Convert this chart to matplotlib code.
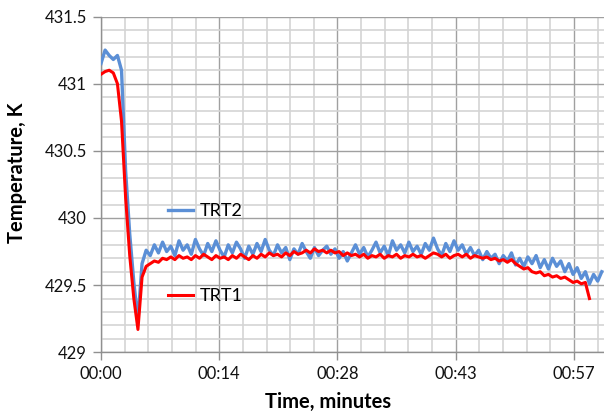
import numpy as np
import matplotlib
matplotlib.use("Agg")
import matplotlib.pyplot as plt
from matplotlib.ticker import FixedLocator, MultipleLocator

plt.rcParams['font.family'] = ['Lato', 'DejaVu Sans']

# sampling interval of the readings, minutes
step_min = 0.5

trt2 = [431.15, 431.25, 431.21, 431.18, 431.21, 431.10, 430.35, 429.88, 429.52, 429.24,
        429.66, 429.76, 429.72, 429.80, 429.74, 429.82, 429.75, 429.79, 429.72, 429.83,
        429.76, 429.80, 429.73, 429.84, 429.77, 429.72, 429.81, 429.75, 429.83, 429.76,
        429.71, 429.80, 429.74, 429.82, 429.77, 429.70, 429.79, 429.73, 429.81, 429.75,
        429.84, 429.76, 429.72, 429.80, 429.74, 429.78, 429.69, 429.77, 429.73, 429.81,
        429.75, 429.70, 429.78, 429.72, 429.76, 429.79, 429.73, 429.77, 429.70, 429.75,
        429.68, 429.74, 429.80, 429.73, 429.78, 429.71, 429.76, 429.82, 429.74, 429.79,
        429.72, 429.83, 429.76, 429.80, 429.74, 429.82, 429.75, 429.79, 429.73, 429.81,
        429.76, 429.85, 429.77, 429.72, 429.81, 429.75, 429.83, 429.76, 429.80, 429.73,
        429.78, 429.72, 429.76, 429.69, 429.75, 429.70, 429.73, 429.66, 429.72, 429.68,
        429.74, 429.65, 429.70, 429.64, 429.71, 429.66, 429.72, 429.63, 429.69, 429.62,
        429.70, 429.64, 429.68, 429.60, 429.66, 429.58, 429.63, 429.55, 429.60, 429.51,
        429.58, 429.53, 429.60]

trt1 = [431.07, 431.09, 431.10, 431.08, 431.00, 430.72, 430.15, 429.72, 429.40, 429.17,
        429.56, 429.64, 429.66, 429.68, 429.67, 429.70, 429.69, 429.71, 429.69, 429.72,
        429.70, 429.71, 429.69, 429.72, 429.70, 429.73, 429.71, 429.69, 429.72, 429.70,
        429.71, 429.69, 429.72, 429.70, 429.73, 429.71, 429.69, 429.72, 429.70, 429.73,
        429.71, 429.74, 429.72, 429.73, 429.71, 429.74, 429.72, 429.75, 429.73, 429.74,
        429.76, 429.74, 429.77, 429.75, 429.76, 429.74, 429.76, 429.74, 429.75, 429.72,
        429.74, 429.72, 429.73, 429.71, 429.73, 429.70, 429.72, 429.71, 429.73, 429.70,
        429.72, 429.71, 429.73, 429.70, 429.72, 429.71, 429.73, 429.71, 429.72, 429.70,
        429.72, 429.74, 429.73, 429.71, 429.73, 429.70, 429.72, 429.73, 429.71, 429.73,
        429.70, 429.72, 429.71, 429.70, 429.71, 429.69, 429.70, 429.68, 429.69, 429.67,
        429.69, 429.66, 429.64, 429.62, 429.63, 429.60, 429.59, 429.60, 429.57, 429.58,
        429.56, 429.57, 429.55, 429.56, 429.54, 429.52, 429.53, 429.51, 429.52, 429.40]

x_tick_min = [0, 14.4, 28.8, 43.2, 57.6]
x_tick_labels = ["00:00", "00:14", "00:28", "00:43", "00:57"]
y_ticks = [429, 429.5, 430, 430.5, 431, 431.5]
y_tick_labels = ["429", "429.5", "430", "430.5", "431", "431.5"]

t2 = np.arange(len(trt2)) * step_min
t1 = np.arange(len(trt1)) * step_min

fig = plt.figure(figsize=(6.04, 4.13), dpi=100)
ax = fig.add_axes([101/604, 60.7/413, 503/604, 335.8/413])

major_c = '#a0a0a0'
minor_c = '#d4d4d4'
ax.set_xlim(0, 61.27)
ax.set_ylim(429, 431.5)
ax.xaxis.set_major_locator(FixedLocator(x_tick_min))
ax.xaxis.set_minor_locator(MultipleLocator(2.88))
ax.yaxis.set_major_locator(FixedLocator(y_ticks))
ax.yaxis.set_minor_locator(MultipleLocator(0.1))
ax.set_xticklabels(x_tick_labels)
ax.set_yticklabels(y_tick_labels)
ax.grid(which='minor', color=minor_c, lw=1.2, zorder=0)
ax.grid(which='major', color=major_c, lw=1.0, zorder=0)
ax.set_axisbelow(True)
for s in ['top', 'right']:
    ax.spines[s].set_visible(False)
for s in ['left', 'bottom']:
    ax.spines[s].set_color('#909090')
    ax.spines[s].set_linewidth(1.0)
ax.tick_params(which='major', length=6, width=1, color='#909090', labelsize=12,
               labelcolor='#111111', pad=4)
ax.tick_params(which='minor', length=0)

l2, = ax.plot(t2, trt2, color='#5B8FD6', lw=2.4, label='TRT2', zorder=3)
l1, = ax.plot(t1, trt1, color='#FF0000', lw=2.2, label='TRT1', zorder=4)

ax.set_xlabel("Time, minutes", fontsize=14.5, fontweight='bold')
ax.set_ylabel("Temperature, K", fontsize=14.5, fontweight='bold')
ax.xaxis.set_label_coords(0.451, -0.118)
ax.yaxis.set_label_coords(-0.148, 0.535)

leg2 = ax.legend(handles=[l2], loc='center left', bbox_to_anchor=(0.133, 0.421),
                 frameon=False, fontsize=13, borderpad=0, borderaxespad=0,
                 handlelength=1.4, handletextpad=0.35)
ax.add_artist(leg2)
ax.legend(handles=[l1], loc='center left', bbox_to_anchor=(0.133, 0.168),
          frameon=False, fontsize=13, borderpad=0, borderaxespad=0,
          handlelength=1.4, handletextpad=0.35)

fig.savefig("out.png", dpi=100)
